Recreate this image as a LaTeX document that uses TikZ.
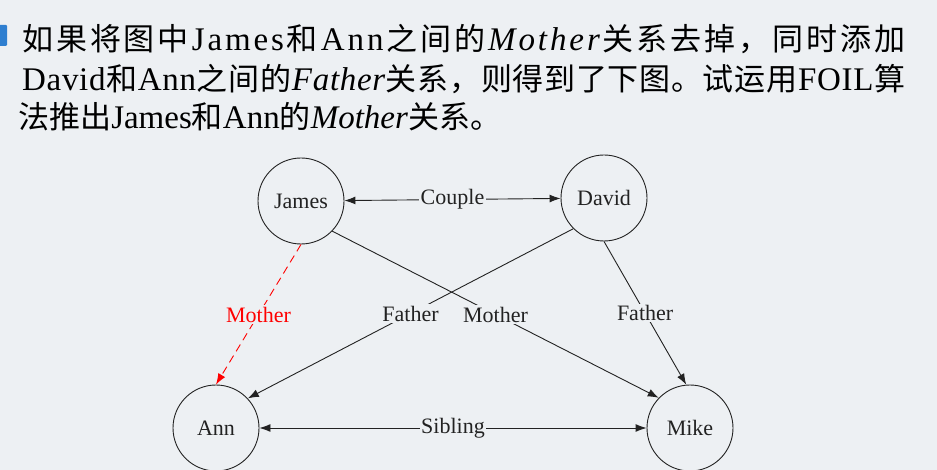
\documentclass[tikz,border=0pt]{standalone}
\usepackage{fontspec}
\setmainfont{Liberation Serif}
\newfontfamily\cjk[Scale=0.94]{Noto Sans CJK SC}
\usetikzlibrary{arrows.meta}
\definecolor{bgcol}{HTML}{EDF0F3}
\definecolor{inkcol}{HTML}{222222}
\definecolor{iconblue}{HTML}{2F7FD0}
\def\spr#1{\ifx\relax#1\else#1\hskip 0pt plus 1fil\relax\expandafter\spr\fi}
\newcommand{\zh}[1]{{\cjk\spr#1\relax}}
\newcommand{\la}[1]{\spr#1\relax}
\newcommand{\lai}[1]{{\itshape\spr#1\relax}}

\begin{document}
\begin{tikzpicture}[x=1pt, y=-1pt,
  person/.style={draw=inkcol, line width=0.9pt, circle, minimum size=86pt, inner sep=0pt, text=inkcol, font=\fontsize{22}{26}\selectfont},
  rel/.style={draw=inkcol, line width=0.9pt, -{Latex[length=11pt,width=8pt]}},
  relboth/.style={draw=inkcol, line width=0.9pt, {Latex[length=11pt,width=8pt]}-{Latex[length=11pt,width=8pt]}},
  lbl/.style={fill=bgcol, inner sep=1.5pt, text=inkcol, font=\fontsize{22}{26}\selectfont},
  head/.style={anchor=base west, inner sep=0pt, text=black, font=\fontsize{33}{40}\selectfont}]
\fill [bgcol] (0, 0) rectangle (937, 470);
\useasboundingbox (0, 0) rectangle (937, 470);

\fill [iconblue, rounded corners=1pt] (-3, 25) rectangle (7, 46);
\node [head] (line1) at (22, 51) {\makebox[883pt][s]{\zh{如果将图中}\la{James}\zh{和}\la{Ann}\zh{之间的}\lai{Mother}\zh{关系去掉，同时添加}\unskip}};
\node [head] (line2) at (22, 91) {\makebox[883pt][s]{\la{David}\zh{和}\la{Ann}\zh{之间的}\lai{Father}\zh{关系，则得到了下图。试运用}\la{FOIL}\zh{算}\unskip}};
\node [head] (line3) at (18, 129) {\zh{法推出}James\zh{和}Ann\zh{的}\textit{Mother}\zh{关系。}};

\node [person] (james) at (301, 201) {James};
\node [person] (david) at (604, 198) {David};
\node [person] (ann) at (216, 428) {Ann};
\node [person] (mike) at (690, 428) {Mike};

\draw [relboth] (james) -- node [lbl] {Couple} (david);
\draw [relboth] (ann) -- node [lbl] {Sibling} (mike);
\draw [rel, draw=red, dash pattern=on 8pt off 5pt] (james.south) -- node [lbl, text=red] {Mother} (ann.north);
\draw [rel] (james.-44) -- node [lbl] {Mother} (mike.136);
\draw [rel] (david.225) -- node [lbl] {Father} (ann.43);
\draw [rel] (david.south) -- node [lbl] {Father} (mike.95);
\end{tikzpicture}
\end{document}
